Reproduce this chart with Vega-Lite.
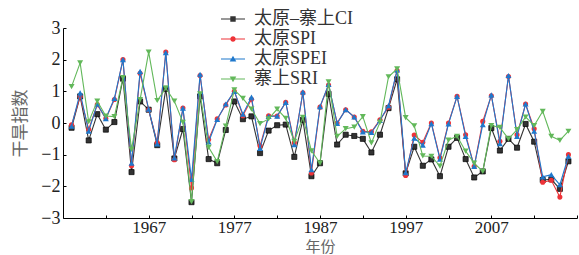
{
"$schema": "https://vega.github.io/schema/vega-lite/v6.json",
"width": 514, "height": 190,
"autosize": {"type": "none"},
"padding": {"left": 63, "top": 28, "right": 2, "bottom": 37},
"background": "white",
"config": {"view": {"stroke": null}, "axis": {"grid": false}},
"data": {"values": [
{"year":1958,"太原–寨上CI":-0.15,"太原SPI":-0.06,"太原SPEI":-0.10,"寨上SRI":1.15},
{"year":1959,"太原–寨上CI":0.84,"太原SPI":0.84,"太原SPEI":0.95,"寨上SRI":1.90},
{"year":1960,"太原–寨上CI":-0.55,"太原SPI":-0.20,"太原SPEI":-0.26,"寨上SRI":0.04},
{"year":1961,"太原–寨上CI":0.28,"太原SPI":0.58,"太原SPEI":0.60,"寨上SRI":0.69},
{"year":1962,"太原–寨上CI":-0.21,"太原SPI":0.14,"太原SPEI":0.14,"寨上SRI":0.22},
{"year":1963,"太原–寨上CI":0.03,"太原SPI":0.74,"太原SPEI":0.78,"寨上SRI":0.20},
{"year":1964,"太原–寨上CI":1.40,"太原SPI":2.00,"太原SPEI":2.00,"寨上SRI":1.43},
{"year":1965,"太原–寨上CI":-1.55,"太原SPI":-1.35,"太原SPEI":-1.27,"寨上SRI":-0.83},
{"year":1966,"太原–寨上CI":0.68,"太原SPI":1.57,"太原SPEI":1.63,"寨上SRI":0.74},
{"year":1967,"太原–寨上CI":0.42,"太原SPI":0.42,"太原SPEI":0.44,"寨上SRI":2.24},
{"year":1968,"太原–寨上CI":-0.70,"太原SPI":-0.62,"太原SPEI":-0.66,"寨上SRI":0.71},
{"year":1969,"太原–寨上CI":1.08,"太原SPI":2.24,"太原SPEI":2.22,"寨上SRI":1.10},
{"year":1970,"太原–寨上CI":-1.12,"太原SPI":-1.16,"太原SPEI":-1.10,"寨上SRI":0.69},
{"year":1971,"太原–寨上CI":-0.19,"太原SPI":0.47,"太原SPEI":0.47,"寨上SRI":0.02},
{"year":1972,"太原–寨上CI":-2.50,"太原SPI":-2.05,"太原SPEI":-1.78,"寨上SRI":-2.48},
{"year":1973,"太原–寨上CI":0.84,"太原SPI":1.50,"太原SPEI":1.54,"寨上SRI":0.92},
{"year":1974,"太原–寨上CI":-1.14,"太原SPI":-0.52,"太原SPEI":-0.60,"寨上SRI":-0.77},
{"year":1975,"太原–寨上CI":-1.27,"太原SPI":0.13,"太原SPEI":0.11,"寨上SRI":-1.22},
{"year":1976,"太原–寨上CI":-0.22,"太原SPI":0.57,"太原SPEI":0.60,"寨上SRI":-0.10},
{"year":1977,"太原–寨上CI":0.68,"太原SPI":1.00,"太原SPEI":1.00,"寨上SRI":1.05},
{"year":1978,"太原–寨上CI":0.12,"太原SPI":0.23,"太原SPEI":0.28,"寨上SRI":0.78},
{"year":1979,"太原–寨上CI":0.21,"太原SPI":0.75,"太原SPEI":0.82,"寨上SRI":0.44},
{"year":1980,"太原–寨上CI":-0.95,"太原SPI":-0.72,"太原SPEI":-0.80,"寨上SRI":-0.02},
{"year":1981,"太原–寨上CI":-0.24,"太原SPI":0.23,"太原SPEI":0.21,"寨上SRI":0.13},
{"year":1982,"太原–寨上CI":-0.07,"太原SPI":0.22,"太原SPEI":0.22,"寨上SRI":0.44},
{"year":1983,"太原–寨上CI":-0.05,"太原SPI":0.65,"太原SPEI":0.65,"寨上SRI":0.15},
{"year":1984,"太原–寨上CI":-1.07,"太原SPI":-0.62,"太原SPEI":-0.68,"寨上SRI":-0.58},
{"year":1985,"太原–寨上CI":0.10,"太原SPI":0.95,"太原SPEI":0.98,"寨上SRI":0.18},
{"year":1986,"太原–寨上CI":-1.68,"太原SPI":-1.58,"太原SPEI":-1.47,"寨上SRI":-0.88},
{"year":1987,"太原–寨上CI":-1.27,"太原SPI":0.50,"太原SPEI":0.52,"寨上SRI":-1.27},
{"year":1988,"太原–寨上CI":0.92,"太原SPI":1.20,"太原SPEI":1.22,"寨上SRI":1.30},
{"year":1989,"太原–寨上CI":-0.68,"太原SPI":0.00,"太原SPEI":-0.01,"寨上SRI":-0.42},
{"year":1990,"太原–寨上CI":-0.37,"太原SPI":0.42,"太原SPEI":0.42,"寨上SRI":-0.18},
{"year":1991,"太原–寨上CI":-0.41,"太原SPI":0.19,"太原SPEI":0.19,"寨上SRI":-0.13},
{"year":1992,"太原–寨上CI":-0.50,"太原SPI":-0.26,"太原SPEI":-0.28,"寨上SRI":0.20},
{"year":1993,"太原–寨上CI":-0.93,"太原SPI":-0.28,"太原SPEI":-0.30,"寨上SRI":-0.63},
{"year":1994,"太原–寨上CI":-0.37,"太原SPI":0.10,"太原SPEI":0.08,"寨上SRI":0.02},
{"year":1995,"太原–寨上CI":0.47,"太原SPI":0.50,"太原SPEI":0.55,"寨上SRI":1.46},
{"year":1996,"太原–寨上CI":1.38,"太原SPI":1.66,"太原SPEI":1.68,"寨上SRI":1.71},
{"year":1997,"太原–寨上CI":-1.59,"太原SPI":-1.66,"太原SPEI":-1.57,"寨上SRI":0.17},
{"year":1998,"太原–寨上CI":-0.75,"太原SPI":-0.38,"太原SPEI":-0.48,"寨上SRI":-0.09},
{"year":1999,"太原–寨上CI":-1.35,"太原SPI":-0.61,"太原SPEI":-0.70,"寨上SRI":-1.04},
{"year":2000,"太原–寨上CI":-1.15,"太原SPI":0.00,"太原SPEI":-0.02,"寨上SRI":-1.05},
{"year":2001,"太原–寨上CI":-1.68,"太原SPI":-1.10,"太原SPEI":-1.14,"寨上SRI":-1.36},
{"year":2002,"太原–寨上CI":-0.75,"太原SPI":0.00,"太原SPEI":-0.03,"寨上SRI":-0.54},
{"year":2003,"太原–寨上CI":-0.47,"太原SPI":0.84,"太原SPEI":0.84,"寨上SRI":-0.42},
{"year":2004,"太原–寨上CI":-1.14,"太原SPI":-0.37,"太原SPEI":-0.42,"寨上SRI":-0.89},
{"year":2005,"太原–寨上CI":-1.72,"太原SPI":-1.37,"太原SPEI":-1.37,"寨上SRI":-1.27},
{"year":2006,"太原–寨上CI":-1.53,"太原SPI":0.05,"太原SPEI":-0.05,"寨上SRI":-1.53},
{"year":2007,"太原–寨上CI":-0.16,"太原SPI":0.86,"太原SPEI":0.89,"寨上SRI":-0.08},
{"year":2008,"太原–寨上CI":-0.87,"太原SPI":-0.58,"太原SPEI":-0.65,"寨上SRI":-0.14},
{"year":2009,"太原–寨上CI":-0.50,"太原SPI":1.47,"太原SPEI":1.50,"寨上SRI":-0.50},
{"year":2010,"太原–寨上CI":-0.78,"太原SPI":-0.37,"太原SPEI":-0.42,"寨上SRI":-0.21},
{"year":2011,"太原–寨上CI":-0.03,"太原SPI":0.60,"太原SPEI":0.60,"寨上SRI":0.19},
{"year":2012,"太原–寨上CI":-0.59,"太原SPI":-0.18,"太原SPEI":-0.26,"寨上SRI":-0.08},
{"year":2013,"太原–寨上CI":-1.80,"太原SPI":-1.87,"太原SPEI":-1.70,"寨上SRI":0.37},
{"year":2014,"太原–寨上CI":-1.78,"太原SPI":-1.81,"太原SPEI":-1.63,"寨上SRI":-0.42},
{"year":2015,"太原–寨上CI":-2.08,"太原SPI":-2.34,"太原SPEI":-1.95,"寨上SRI":-0.55},
{"year":2016,"太原–寨上CI":-1.21,"太原SPI":-1.00,"太原SPEI":-1.05,"寨上SRI":-0.26}
]},
"transform": [{"fold": ["太原–寨上CI","太原SPI","太原SPEI","寨上SRI"], "as": ["series","value"]}],
"encoding": {
  "x": {"field": "year", "type": "quantitative",
        "scale": {"domain": [1957, 2017], "nice": false, "zero": false},
        "axis": {"values": [1962,1967,1972,1977,1982,1987,1992,1997,2002,2007,2012,2017],
                 "labelExpr": "(datum.value - 1967) % 10 === 0 && datum.value < 2010 ? '' + datum.value : ''",
                 "tickSize": -3, "tickColor": "#000", "domainColor": "#000", "domainWidth": 1,
                 "labelFont": "Liberation Serif", "labelFontSize": 17, "labelColor": "#222", "labelPadding": 4,
                 "labelFlush": false, "labelOverlap": false,
                 "title": "年份", "titleFont": "Noto Sans CJK SC", "titleFontSize": 15, "titleFontWeight": "normal",
                 "titleColor": "#666", "titleX": 257, "titleY": 28, "titleBaseline": "middle", "titleAlign": "center"}},
  "y": {"field": "value", "type": "quantitative",
        "scale": {"domain": [-3, 3], "nice": false},
        "axis": {"values": [-3,-2.5,-2,-1.5,-1,-0.5,0,0.5,1,1.5,2,2.5,3],
                 "format": "d",
                 "labelExpr": "datum.value % 1 === 0 ? datum.label : ''",
                 "tickSize": -3, "tickColor": "#000", "domainColor": "#000", "domainWidth": 1,
                 "labelFont": "Liberation Serif", "labelFontSize": 18, "labelColor": "#222", "labelPadding": 6,
                 "labelFlush": false, "labelOverlap": false,
                 "title": "干旱指数", "titleFont": "Noto Sans CJK SC", "titleFontSize": 17, "titleFontWeight": "normal",
                 "titleColor": "#666", "titleX": -43, "titleY": 95, "titleBaseline": "middle", "titleAlign": "center", "titleAngle": -90}},
  "color": {"field": "series", "type": "nominal",
            "scale": {"domain": ["太原–寨上CI","太原SPI","太原SPEI","寨上SRI"], "range": ["#333333","#ee3338","#1f78cc","#62b85a"]}}
},
"layer": [
  {"transform": [{"filter": "datum.series === '太原–寨上CI'"}],
   "mark": {"type": "line", "strokeWidth": 1.1, "point": {"filled": true, "shape": "square", "size": 26, "color": "#4a4a4a", "stroke": "#000", "strokeWidth": 0.7}},
   "encoding": {"color": {"field": "series", "type": "nominal",
     "legend": {"orient": "none", "legendX": 161, "legendY": -18, "title": null, "padding": 0,
                "symbolSize": 144, "labelOffset": 12, "rowPadding": 2,
                "labelFont": "Liberation Serif, Noto Sans CJK SC", "labelFontSize": 18, "labelColor": "#333", "labelLimit": 0,
                "encode": {"symbols": {"update": {
                  "shape": {"signal": "datum.value === '太原–寨上CI' ? 'M-2,-0.09H2V0.09H-2Z M-0.45,-0.45H0.45V0.45H-0.45Z' : datum.value === '太原SPI' ? 'M-2,-0.09H2V0.09H-2Z M-0.45,0A0.45,0.45,0,1,1,0.45,0A0.45,0.45,0,1,1,-0.45,0Z' : datum.value === '太原SPEI' ? 'M-2,-0.09H2V0.09H-2Z M0,-0.55L0.55,0.42L-0.55,0.42Z' : 'M-2,-0.09H2V0.09H-2Z M0,0.55L-0.55,-0.42L0.55,-0.42Z'"},
                  "fill": {"signal": "scale('color', datum.value)"},
                  "stroke": {"value": "transparent"},
                  "strokeWidth": {"value": 0},
                  "size": {"value": 144},
                  "opacity": {"value": 1}
                }}}}}}},
  {"transform": [{"filter": "datum.series === '太原SPI'"}],
   "mark": {"type": "line", "strokeWidth": 1.1, "point": {"filled": true, "shape": "circle", "size": 26}},
   "encoding": {"color": {"field": "series", "type": "nominal", "legend": null}}},
  {"transform": [{"filter": "datum.series === '太原SPEI'"}],
   "mark": {"type": "line", "strokeWidth": 1.1, "point": {"filled": true, "shape": "triangle-up", "size": 36}},
   "encoding": {"color": {"field": "series", "type": "nominal", "legend": null}}},
  {"transform": [{"filter": "datum.series === '寨上SRI'"}],
   "mark": {"type": "line", "strokeWidth": 1.1, "point": {"filled": true, "shape": "triangle-down", "size": 36}},
   "encoding": {"color": {"field": "series", "type": "nominal", "legend": null}}}
]
}
